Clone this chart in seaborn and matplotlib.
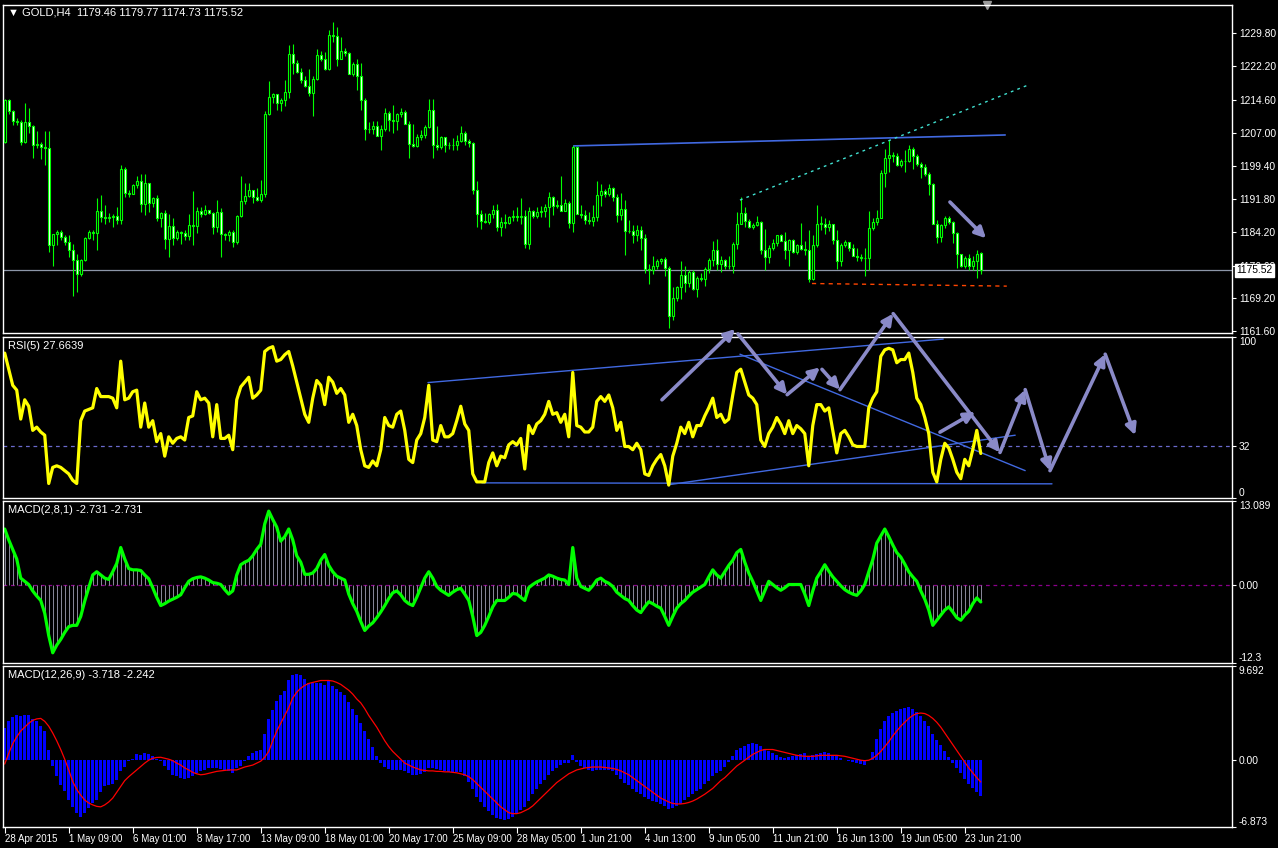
import matplotlib
matplotlib.use("Agg")
import matplotlib.pyplot as plt
import numpy as np
import pandas as pd
import seaborn as sns

# GOLD, H4, one entry per bar
first_open = 1204.8
last_open = 1179.46
closes = [1214.5, 1211.9, 1209.6, 1209.4, 1205.0, 1209.4, 1208.6, 1204.2, 1204.5, 1203.7,
          1203.5, 1181.2, 1183.8, 1184.2, 1183.2, 1182.0, 1180.2, 1177.8, 1174.7, 1177.9,
          1182.9, 1184.2, 1184.0, 1189.0, 1187.7, 1187.6, 1187.7, 1187.9, 1187.1, 1198.6,
          1193.3, 1193.1, 1195.0, 1195.9, 1190.8, 1195.4, 1191.0, 1192.0, 1187.4, 1188.7,
          1182.8, 1185.6, 1183.0, 1184.3, 1184.1, 1183.3, 1186.0, 1185.6, 1189.2, 1188.4,
          1189.3, 1188.7, 1185.4, 1188.9, 1183.9, 1183.7, 1184.4, 1182.0, 1187.9, 1191.3,
          1192.5, 1193.9, 1192.3, 1191.7, 1193.1, 1211.4, 1215.2, 1215.8, 1213.8, 1214.6,
          1216.4, 1225.0, 1223.0, 1220.9, 1219.1, 1217.8, 1216.0, 1219.4, 1224.7, 1223.8,
          1221.5, 1229.3, 1229.2, 1224.0, 1225.7, 1225.3, 1220.4, 1222.7, 1220.0, 1214.5,
          1207.8, 1207.8, 1208.6, 1206.3, 1207.9, 1211.5, 1210.0, 1209.6, 1211.2, 1211.7,
          1209.1, 1204.5, 1203.9, 1206.0, 1206.5, 1208.3, 1212.3, 1204.2, 1203.7, 1206.1,
          1204.2, 1204.1, 1204.3, 1205.1, 1206.9, 1205.1, 1204.6, 1193.9, 1188.3, 1186.8,
          1186.6, 1188.3, 1189.3, 1185.4, 1186.6, 1186.3, 1187.8, 1187.9, 1187.7, 1188.0,
          1181.6, 1189.0, 1187.9, 1188.9, 1189.1, 1190.0, 1192.2, 1190.2, 1190.4, 1189.1,
          1190.9, 1186.4, 1203.8, 1188.5, 1188.2, 1187.0, 1186.8, 1187.8, 1192.7, 1193.6,
          1193.0, 1194.3, 1192.4, 1188.1, 1189.6, 1184.5, 1184.5, 1183.5, 1184.7, 1183.0,
          1175.8, 1175.5, 1176.6, 1177.6, 1178.2, 1176.1, 1165.1, 1169.2, 1171.8, 1174.5,
          1172.7, 1175.1, 1171.2, 1173.8, 1173.6, 1175.9, 1177.8, 1180.2, 1177.0, 1177.9,
          1176.4, 1176.6, 1181.6, 1186.2, 1188.7, 1186.8, 1185.4, 1185.8, 1186.6, 1180.2,
          1178.5, 1180.7, 1181.7, 1183.5, 1182.3, 1180.1, 1182.5, 1179.7, 1181.2, 1180.5,
          1180.1, 1173.5, 1181.2, 1186.2, 1186.2, 1185.4, 1186.2, 1182.5, 1177.6, 1181.4,
          1182.0, 1180.7, 1178.9, 1178.5, 1178.3, 1178.3, 1185.3, 1186.6, 1187.6, 1197.8,
          1201.2, 1201.9, 1201.8, 1199.6, 1200.5, 1200.5, 1203.2, 1201.6, 1199.9, 1199.1,
          1197.5, 1195.3, 1186.2, 1183.1, 1185.8, 1187.6, 1186.6, 1184.1, 1179.3, 1176.4,
          1178.4, 1176.4, 1177.7, 1179.3, 1175.52]
highs = [1214.8, 1214.8, 1212.3, 1210.4, 1210.0, 1213.8, 1212.7, 1208.8, 1207.3, 1204.8,
         1207.3, 1207.3, 1183.9, 1184.7, 1184.7, 1183.5, 1183.5, 1181.6, 1179.3, 1178.1,
         1183.1, 1184.7, 1184.7, 1192.0, 1192.7, 1190.4, 1188.7, 1188.3, 1190.0, 1199.6,
         1199.1, 1193.8, 1195.3, 1197.0, 1197.5, 1197.5, 1195.4, 1192.4, 1192.7, 1188.8,
         1189.3, 1188.3, 1187.4, 1184.7, 1184.5, 1184.8, 1188.5, 1193.6, 1190.0, 1190.0,
         1190.4, 1189.3, 1188.9, 1191.6, 1189.7, 1184.1, 1184.7, 1184.7, 1188.1, 1197.1,
         1195.4, 1195.4, 1193.6, 1194.3, 1196.2, 1211.9, 1218.8, 1216.1, 1215.8, 1215.0,
         1219.0, 1227.0, 1227.3, 1223.6, 1221.9, 1220.1, 1221.7, 1220.1, 1226.1, 1225.7,
         1225.5, 1230.6, 1232.4, 1231.1, 1229.0, 1226.5, 1225.5, 1223.1, 1224.0, 1222.9,
         1215.0, 1209.4, 1209.6, 1209.6, 1208.8, 1212.7, 1211.9, 1213.4, 1211.5, 1212.7,
         1212.3, 1209.6, 1209.1, 1206.8, 1207.7, 1208.8, 1214.8, 1214.8, 1208.6, 1206.3,
         1205.3, 1205.0, 1205.8, 1206.5, 1208.6, 1207.5, 1205.5, 1204.8, 1196.0, 1189.4,
         1188.7, 1188.7, 1190.4, 1190.8, 1187.7, 1188.5, 1187.9, 1189.3, 1189.9, 1192.0,
         1189.3, 1190.0, 1189.4, 1190.0, 1190.2, 1190.6, 1193.5, 1192.5, 1191.5, 1197.1,
         1191.9, 1191.4, 1204.2, 1203.9, 1190.4, 1189.4, 1188.9, 1190.4, 1196.0, 1195.3,
         1194.1, 1195.3, 1194.5, 1192.9, 1193.2, 1191.6, 1187.0, 1186.0, 1186.0, 1185.6,
         1183.9, 1177.0, 1178.7, 1178.1, 1178.4, 1178.5, 1176.4, 1171.6, 1172.0, 1177.6,
         1176.4, 1175.5, 1175.5, 1174.3, 1174.8, 1176.2, 1178.4, 1182.2, 1182.7, 1178.7,
         1178.1, 1178.7, 1182.0, 1188.9, 1192.2, 1189.9, 1187.2, 1186.4, 1187.9, 1186.8,
         1185.0, 1181.4, 1182.7, 1183.7, 1183.9, 1184.3, 1182.8, 1182.7, 1181.6, 1186.3,
         1182.2, 1184.8, 1183.5, 1190.4, 1187.9, 1187.4, 1187.0, 1185.8, 1184.7, 1181.8,
         1182.4, 1182.0, 1181.6, 1180.7, 1179.3, 1180.7, 1189.1, 1187.4, 1189.3, 1198.5,
         1203.2, 1205.4, 1202.6, 1202.3, 1200.9, 1203.1, 1204.2, 1203.8, 1202.2, 1200.4,
         1199.9, 1198.1, 1195.4, 1187.0, 1186.2, 1187.9, 1188.0, 1186.9, 1184.2, 1179.3,
         1178.7, 1179.3, 1178.7, 1180.2, 1179.77]
lows = [1204.6, 1211.4, 1208.8, 1208.8, 1204.2, 1204.6, 1206.9, 1201.2, 1203.5, 1201.0,
        1199.6, 1179.7, 1176.6, 1181.2, 1182.4, 1181.2, 1178.5, 1169.7, 1170.5, 1174.3,
        1177.6, 1182.7, 1182.4, 1180.1, 1186.6, 1186.2, 1186.5, 1185.4, 1186.2, 1186.2,
        1192.3, 1192.3, 1192.9, 1194.3, 1188.9, 1188.1, 1188.9, 1190.0, 1186.8, 1185.4,
        1180.5, 1178.5, 1181.2, 1182.4, 1181.6, 1182.4, 1182.4, 1181.2, 1184.0, 1187.7,
        1188.1, 1188.4, 1183.8, 1184.3, 1178.5, 1182.4, 1182.3, 1180.8, 1181.6, 1187.7,
        1190.8, 1192.4, 1190.9, 1191.4, 1191.2, 1192.3, 1211.0, 1213.8, 1212.3, 1212.1,
        1213.1, 1215.0, 1220.4, 1220.6, 1218.4, 1217.5, 1215.5, 1210.8, 1219.1, 1223.4,
        1221.3, 1221.3, 1227.8, 1222.4, 1223.8, 1224.6, 1220.4, 1220.1, 1216.9, 1212.2,
        1205.4, 1206.9, 1206.8, 1206.3, 1203.1, 1207.3, 1207.3, 1206.9, 1207.7, 1210.6,
        1209.0, 1201.3, 1203.7, 1203.7, 1205.4, 1205.8, 1208.1, 1201.3, 1203.1, 1203.2,
        1202.7, 1203.3, 1203.1, 1203.1, 1204.8, 1204.2, 1203.7, 1193.0, 1185.4, 1185.0,
        1186.4, 1186.2, 1187.4, 1184.5, 1183.3, 1185.3, 1186.2, 1186.8, 1186.8, 1186.2,
        1180.7, 1180.4, 1187.6, 1187.4, 1187.7, 1187.7, 1185.4, 1188.1, 1189.7, 1189.1,
        1189.3, 1185.1, 1184.3, 1188.4, 1187.4, 1186.2, 1186.1, 1185.6, 1186.8, 1190.2,
        1192.2, 1192.5, 1191.4, 1186.6, 1187.0, 1179.1, 1184.1, 1181.8, 1182.2, 1180.1,
        1174.8, 1172.5, 1174.7, 1175.8, 1177.0, 1174.3, 1162.4, 1164.1, 1168.6, 1168.9,
        1170.5, 1171.8, 1171.0, 1169.3, 1173.0, 1172.0, 1174.8, 1176.6, 1175.6, 1175.1,
        1175.8, 1175.8, 1174.8, 1180.4, 1186.2, 1185.4, 1185.3, 1185.0, 1185.6, 1179.3,
        1175.6, 1177.1, 1180.2, 1181.0, 1182.2, 1178.1, 1176.4, 1179.4, 1179.3, 1180.1,
        1179.1, 1172.8, 1173.3, 1180.8, 1184.7, 1183.8, 1184.5, 1181.6, 1175.8, 1176.6,
        1180.9, 1179.9, 1178.7, 1177.6, 1177.6, 1174.3, 1175.5, 1184.7, 1185.8, 1187.4,
        1194.6, 1198.1, 1200.4, 1199.4, 1199.2, 1198.1, 1200.4, 1198.6, 1199.3, 1196.6,
        1197.1, 1192.7, 1186.1, 1181.8, 1182.0, 1185.1, 1186.2, 1181.8, 1176.1, 1176.2,
        1176.1, 1175.6, 1175.6, 1173.8, 1174.73]

rsi_5 = [90, 80, 70, 67, 49, 61, 57, 42, 44, 41,
         39, 9, 19, 20, 19, 17, 15, 11, 9, 48,
         54, 55, 56, 68, 63, 63, 63, 62, 56, 85,
         61, 62, 66, 67, 44, 59, 44, 48, 35, 40,
         26, 38, 34, 37, 38, 36, 50, 51, 66, 61,
         62, 59, 38, 58, 37, 37, 39, 30, 61, 69,
         72, 75, 62, 64, 67, 91, 93, 94, 85, 86,
         89, 91, 82, 72, 62, 52, 47, 62, 73, 70,
         58, 75, 72, 65, 68, 64, 47, 52, 45, 30,
         20, 19, 23, 20, 30, 50, 45, 44, 52, 54,
         42, 24, 22, 36, 40, 50, 70, 36, 35, 45,
         38, 38, 40, 48, 57, 46, 42, 15, 10, 10,
         10, 22, 28, 20, 26, 25, 33, 35, 33, 37,
         18, 45, 40, 46, 48, 52, 60, 52, 53, 47,
         52, 38, 78, 45, 44, 41, 41, 44, 60, 63,
         60, 64, 56, 42, 47, 32, 32, 30, 34, 30,
         15, 14, 20, 24, 27, 20, 8, 26, 34, 44,
         40, 47, 38, 45, 45, 51, 56, 62, 50, 52,
         47, 49, 64, 78, 80, 72, 64, 62, 58, 36,
         32, 40, 44, 50, 46, 40, 48, 40, 45, 43,
         40, 20, 45, 58, 58, 54, 56, 42, 28, 40,
         42, 38, 33, 32, 32, 32, 56, 62, 66, 88,
         92, 93, 92, 84, 86, 86, 90, 78, 62, 58,
         50, 40, 16, 10, 24, 34, 31, 24, 16, 12,
         24, 20, 30, 42, 27.6639]

# MACD(2,8,1): histogram and signal are the same series
macd_fast = [8.7, 7, 5.5, 4, 1, 0.5, 0, -1, -1.8, -2.5,
             -4.5, -8, -10.7, -9.5, -8.6, -7.5, -6.6, -6.4, -6.4, -5,
             -2.6, -0.5, 1.5, 2, 1.5, 1, 0.8, 2, 3.3, 5.8,
             4, 2.5, 2.3, 2.3, 2.2, 1.5, 0.9, -0.5, -2, -3.3,
             -3, -2.6, -2.3, -2, -1.6, -0.5, 0.5, 0.9, 1.1, 1.2,
             1, 0.7, 0.3, 0.2, 0, -0.8, -1.5, -1, 1.5, 3.1,
             3.5, 3.8, 4.5, 5.5, 6.3, 9.5, 11.5, 10.2, 9, 6.8,
             7.5, 8.7, 7, 4.5, 3.5, 1.6, 1.6, 1.8, 2.5, 3.8,
             4.7, 3.0, 2, 1.3, 1, 0.7, -1.5, -3, -4.2, -5.8,
             -7.2, -6.5, -6, -5.2, -4.3, -3.3, -2.2, -1.3, -1, -1.6,
             -2.5, -3, -3.3, -2, -0.5, 1, 2, 1, -0.3, -0.9,
             -1.3, -1.7, -1.2, -0.8, -0.6, -1.5, -2.5, -5, -8, -7.5,
             -6.4, -5, -3.5, -2.5, -2.5, -2.5, -2, -1.4, -1.5, -2,
             -2.5, -0.5, 0, 0.4, 0.7, 1, 1.5, 1.3, 1, 0.8,
             0.7, 0, 5.8, 1, -0.3, -0.6, -0.9, -0.2, 0.7, 1,
             0.5, 0.2, -0.3, -1.2, -1.7, -2.2, -2.5, -3.3, -4, -4.4,
             -3.5, -2.7, -3, -3.4, -3.7, -5, -6.4, -5, -3.7, -3,
             -2.5, -1.8, -1.2, -0.8, -0.4, 0, 1.2, 2.3, 1.5, 1,
             2, 3, 3.8, 5, 5.5, 3.5, 1.8, 0.5, -1, -2.5,
             -1, 0.5, 0, -0.5, -0.9, -0.5, 0, 0, 0, 0,
             -1.5, -3.3, -1, 1, 2, 3.1, 2.1, 1.2, 0.5, -0.2,
             -0.8, -1.2, -1.5, -1.7, -1, 0, 2, 3.9, 6.5, 7.6,
             8.7, 7.5, 6.2, 5, 4.3, 3.2, 2, 1.2, 0.5, -1,
             -2.3, -4, -6.4, -5.6, -4.8, -4, -3.5, -4.3, -5.2, -5.6,
             -4.8, -4.2, -3, -2.1, -2.731]

# MACD(12,26,9)
macd_main = [3.3, 4.0, 4.4, 4.6, 4.55, 4.7, 4.6, 4.2, 4.0, 3.5,
             3.0, 1.0, -0.55, -1.65, -2.6, -3.2, -4.1, -4.8, -5.4, -5.8,
             -5.4, -4.9, -4.4, -4.1, -3.3, -2.7, -2.6, -2.4, -2.0, -1.1,
             -0.7, -0.1, 0.15, 0.6, 0.5, 0.7, 0.6, 0.4, 0.1, -0.1,
             -0.6, -1.0, -1.5, -1.65, -1.8, -1.9, -1.8, -1.65, -1.3, -1.1,
             -1.0, -0.8, -0.8, -0.8, -0.9, -1.0, -1.1, -1.3, -0.8, -0.55,
             -0.1, 0.4, 0.7, 0.9, 1.0, 2.65, 4.2, 5.2, 6.1, 6.7,
             7.1, 8.3, 8.8, 8.9, 8.8, 8.4, 7.9, 7.9, 7.9, 7.9,
             7.7, 8.1, 7.6, 7.3, 7.0, 6.7, 6.0, 5.3, 4.6, 3.8,
             3.0, 2.2, 1.4, 0.4, -0.3, -0.7, -0.9, -1.0, -1.0, -1.0,
             -1.1, -1.3, -1.5, -1.5, -1.4, -1.2, -0.8, -0.8, -0.9, -1.0,
             -1.1, -1.2, -1.2, -1.2, -1.2, -1.6, -2.2, -3.0, -3.8, -4.3,
             -4.8, -5.2, -5.6, -5.9, -6.0, -6.2, -6.1, -5.8, -5.5, -5.1,
             -4.8, -4.2, -3.5, -3.0, -2.5, -2.0, -1.5, -1.1, -0.8, -0.5,
             -0.3, -0.3, 0.5, -0.2, -0.6, -0.8, -1.0, -1.1, -1.0, -1.0,
             -1.0, -1.0, -1.1, -1.5, -1.9, -2.3, -2.6, -3.0, -3.3, -3.5,
             -3.8, -4.0, -4.2, -4.3, -4.5, -4.7, -5.0, -4.9, -4.7, -4.5,
             -4.1, -3.8, -3.5, -3.2, -3.0, -2.5, -2.1, -1.6, -1.3, -1.1,
             -0.7, -0.2, 0.4, 1.0, 1.3, 1.5, 1.7, 1.8, 1.7, 1.5,
             1.2, 0.9, 0.7, 0.5, 0.3, 0.2, 0.3, 0.4, 0.5, 0.6,
             0.7, 0.4, 0.5, 0.6, 0.7, 0.8, 0.7, 0.5, 0.4, 0.2,
             0.0, -0.1, -0.2, -0.3, -0.4, -0.5, 0.0, 0.8, 2.2, 3.2,
             4.0, 4.5, 4.9, 5.1, 5.3, 5.4, 5.5, 5.3, 5.0, 4.5,
             4.0, 3.5, 2.7, 2.1, 1.6, 0.9, 0.3, -0.3, -0.8, -1.3,
             -1.9, -2.4, -2.9, -3.3, -3.718]
macd_signal = [-0.4, 0.7, 1.7, 2.4, 3.0, 3.4, 3.8, 4.1, 4.25, 4.3,
               4.0, 3.5, 2.8, 2.0, 1.1, 0.1, -1.0, -2.2, -3.0, -3.6,
               -4.1, -4.4, -4.6, -4.75, -4.8, -4.6, -4.3, -3.9, -3.3, -2.7,
               -2.1, -1.7, -1.35, -1.0, -0.65, -0.3, 0.0, 0.2, 0.28, 0.3,
               0.2, 0.1, -0.05, -0.3, -0.5, -0.8, -1.0, -1.25, -1.4, -1.5,
               -1.45, -1.35, -1.25, -1.15, -1.1, -1.05, -1.0, -1.0, -1.0, -0.85,
               -0.7, -0.6, -0.5, -0.3, -0.1, 0.3, 0.9, 2.0, 3.0, 3.8,
               4.6, 5.4, 6.4, 7.0, 7.4, 7.7, 7.9, 8.0, 8.1, 8.2,
               8.2, 8.2, 8.15, 8.0, 7.8, 7.5, 7.2, 6.8, 6.3, 5.9,
               5.3, 4.6, 4.0, 3.4, 2.7, 2.0, 1.4, 0.9, 0.5, 0.1,
               -0.3, -0.5, -0.7, -0.85, -1.0, -1.05, -1.1, -1.1, -1.15, -1.15,
               -1.2, -1.2, -1.25, -1.3, -1.4, -1.5, -1.7, -2.0, -2.4, -2.8,
               -3.2, -3.6, -4.0, -4.4, -4.8, -5.1, -5.4, -5.5, -5.5, -5.4,
               -5.2, -5.0, -4.7, -4.3, -3.9, -3.5, -3.1, -2.7, -2.3, -2.0,
               -1.7, -1.4, -1.2, -1.0, -0.9, -0.8, -0.75, -0.7, -0.7, -0.7,
               -0.75, -0.8, -0.85, -0.95, -1.1, -1.3, -1.5, -1.8, -2.1, -2.4,
               -2.7, -3.0, -3.3, -3.6, -3.9, -4.1, -4.3, -4.45, -4.5, -4.5,
               -4.45, -4.35, -4.2, -4.0, -3.75, -3.5, -3.2, -2.9, -2.5, -2.1,
               -1.8, -1.4, -1.0, -0.6, -0.3, 0.0, 0.3, 0.6, 0.8, 1.0,
               1.1, 1.1, 1.1, 1.0, 0.9, 0.8, 0.7, 0.6, 0.5, 0.45,
               0.4, 0.4, 0.4, 0.45, 0.5, 0.5, 0.5, 0.5, 0.5, 0.45,
               0.4, 0.3, 0.2, 0.1, 0.0, -0.05, 0.0, 0.2, 0.5, 0.9,
               1.4, 1.9, 2.5, 3.0, 3.5, 3.9, 4.3, 4.6, 4.8, 4.85,
               4.8, 4.6, 4.3, 3.9, 3.4, 2.8, 2.2, 1.6, 1.0, 0.4,
               -0.2, -0.8, -1.3, -1.8, -2.242]

date_labels = ["28 Apr 2015", "1 May 09:00", "6 May 01:00", "8 May 17:00", "13 May 09:00",
               "18 May 01:00", "20 May 17:00", "25 May 09:00", "28 May 05:00", "1 Jun 21:00",
               "4 Jun 13:00", "9 Jun 05:00", "11 Jun 21:00", "16 Jun 13:00", "19 Jun 05:00",
               "23 Jun 21:00"]
bars_per_label = 16
price_ticks = [1229.80, 1222.20, 1214.60, 1207.00, 1199.40, 1191.80, 1184.20, 1176.60, 1169.20, 1161.60]

# hand drawn objects on the chart, as (bar, value) pairs
resistance = [(142.3, 1204.0), (250.1, 1206.5)]
rising_dots = [(183.8, 1191.6), (256.3, 1218.1)]
support_dash = [(201.8, 1172.5), (250.5, 1171.9)]
price_arrow = [(235.8, 1191.6), (245.8, 1182.4)]
rsi_lines = [[(105.8, 71.7), (234.6, 98.7)],
             [(119.3, 9.4), (261.8, 8.8)],
             [(165.8, 8.2), (252.6, 39.0)],
             [(183.8, 89.3), (255.1, 17.0)]]
rsi_arrows = [[(164.3, 61.0), (182.6, 105.0)],
              [(183.3, 101.9), (195.6, 64.2)],
              [(195.6, 64.2), (203.8, 81.1)],
              [(204.3, 79.9), (208.8, 67.3)],
              [(208.8, 67.3), (222.1, 114.5)],
              [(222.1, 114.5), (248.8, 28.3)],
              [(248.8, 28.3), (255.1, 67.3)],
              [(255.1, 67.3), (261.3, 17.0)],
              [(261.3, 17.0), (275.1, 89.3)],
              [(275.1, 89.3), (282.6, 39.0)],
              [(233.8, 40.9), (242.6, 53.5)]]
shift_marker_bar = 245.5

sns.set_style("dark", {"axes.facecolor": "black", "figure.facecolor": "black",
                       "axes.edgecolor": "white", "text.color": "white",
                       "xtick.color": "white", "ytick.color": "white"})
plt.rcParams["font.family"] = ["Liberation Sans", "DejaVu Sans"]

LIME = "#00ff00"
ARROW = "#8a8ac8"
TREND = "#4169e1"

bars = np.arange(len(closes))
df = pd.DataFrame({"bar": bars, "close": closes, "high": highs, "low": lows})
df["open"] = [first_open] + closes[:-1]
df.loc[df.index[-1], "open"] = last_open

fig = plt.figure(figsize=(12.78, 8.48), dpi=100)


def make_panel(top_px, bottom_px):
    ax = fig.add_axes([3 / 1278, 1 - bottom_px / 848, 1229 / 1278, (bottom_px - top_px) / 848])
    ax.set_facecolor("black")
    for s in ax.spines.values():
        s.set_color("white")
        s.set_linewidth(1)
    ax.yaxis.tick_right()
    ax.tick_params(axis="y", colors="white", labelsize=7.4, length=3, width=0.8, pad=2)
    ax.tick_params(axis="x", bottom=False, labelbottom=False)
    ax.set_xlim(-0.43, 306.8)
    ax.grid(False)
    return ax


def set_edge_labels(ax, ticks, labels):
    ax.set_yticks(ticks)
    ax.set_yticklabels(labels)
    tl = ax.get_yticklabels()
    tl[0].set_va("top")
    tl[-1].set_va("bottom")


# ---- price panel ----
ax1 = make_panel(5, 333)
ax1.set_ylim(1161.17, 1236.25)
ax1.set_yticks(price_ticks)
ax1.set_yticklabels([f"{p:.2f}" for p in price_ticks])
ax1.axhline(closes[-1], color="#8c96a8", lw=0.9, zorder=1)
ax1.vlines(df.bar, df.low, df.high, color=LIME, lw=0.8, zorder=2)
body_lo = df[["open", "close"]].min(axis=1)
body_h = (df.close - df.open).abs().clip(lower=0.12)
body_col = np.where(df.close < df.open, "white", "black")
ax1.bar(df.bar, body_h, bottom=body_lo, width=0.52, color=body_col,
        edgecolor=LIME, linewidth=0.8, zorder=3)
ax1.plot(*zip(*resistance), color=TREND, lw=1.2, zorder=4)
ax1.plot(*zip(*rising_dots), color="#40e0d0", lw=1, ls=(0, (2, 3)), zorder=4)
ax1.plot(*zip(*support_dash), color="#ff4500", lw=1, ls=(0, (3, 3)), zorder=4)
ax1.annotate("", xy=price_arrow[1], xytext=price_arrow[0],
             arrowprops=dict(arrowstyle="-|>", color=ARROW, lw=2.6, mutation_scale=16))
# current price tag covers the 1176.60 tick label, as in MT4
ax1.text(1.0035, closes[-1], f"{closes[-1]:.2f}", transform=ax1.get_yaxis_transform(),
         color="black", fontsize=7.4, va="center", ha="left", clip_on=False, zorder=10,
         bbox=dict(boxstyle="square,pad=0.12", fc="white", ec="white"))
ax1.text(0.004, 0.993, f"\u25bc GOLD,H4  {last_open:.2f} {highs[-1]:.2f} {lows[-1]:.2f} {closes[-1]:.2f}",
         transform=ax1.transAxes, color="white", fontsize=8, va="top", ha="left")
ax1.plot([shift_marker_bar], [1.0], marker="v", color="#9a9a9a", ms=6,
         transform=ax1.get_xaxis_transform(), clip_on=False)

# ---- RSI panel ----
ax2 = make_panel(337, 498)
ax2.set_ylim(0, 100)
set_edge_labels(ax2, [100, 32, 0], ["100", "32", "0"])
ax2.axhline(32, color="#6a6acd", lw=0.9, ls=(0, (3, 3)))
for seg in rsi_lines:
    ax2.plot(*zip(*seg), color=TREND, lw=1)
sns.lineplot(x=bars, y=rsi_5, ax=ax2, color="#ffff00", lw=2.3, legend=False)
for a, b in rsi_arrows:
    ax2.annotate("", xy=b, xytext=a, annotation_clip=False,
                 arrowprops=dict(arrowstyle="-|>", color=ARROW, lw=2.6, mutation_scale=16,
                                 shrinkA=0, shrinkB=0))
ax2.text(0.004, 0.975, f"RSI(5) {rsi_5[-1]:.4f}", transform=ax2.transAxes,
         color="white", fontsize=8, va="top", ha="left")
ax2.set_xlabel("")
ax2.set_ylabel("")

# ---- MACD(2,8,1) panel ----
ax3 = make_panel(501, 663)
ax3.set_ylim(-12.3, 13.089)
set_edge_labels(ax3, [13.089, 0, -12.3], ["13.089", "0.00", "-12.3"])
ax3.axhline(0, color="#8b008b", lw=0.9, ls=(0, (3, 3)))
ax3.vlines(bars, 0, macd_fast, color="#a0a0b4", lw=0.6)
sns.lineplot(x=bars, y=macd_fast, ax=ax3, color=LIME, lw=2.3, legend=False)
ax3.text(0.004, 0.975, f"MACD(2,8,1) {macd_fast[-1]:.3f} {macd_fast[-1]:.3f}",
         transform=ax3.transAxes, color="white", fontsize=8, va="top", ha="left")
ax3.set_xlabel("")
ax3.set_ylabel("")

# ---- MACD(12,26,9) panel ----
ax4 = make_panel(666, 827)
ax4.set_ylim(-6.873, 9.692)
set_edge_labels(ax4, [9.692, 0, -6.873], ["9.692", "0.00", "-6.873"])
ax4.bar(bars, macd_main, width=0.7, color="#0000ff", linewidth=0)
sns.lineplot(x=bars, y=macd_signal, ax=ax4, color="#ff0000", lw=0.9, legend=False)
ax4.text(0.004, 0.975, f"MACD(12,26,9) {macd_main[-1]:.3f} {macd_signal[-1]:.3f}",
         transform=ax4.transAxes, color="white", fontsize=8, va="top", ha="left")
ax4.set_xlabel("")
ax4.set_ylabel("")
ax4.set_xticks(bars[::bars_per_label][:len(date_labels)])
ax4.set_xticklabels(date_labels)
ax4.tick_params(axis="x", bottom=True, labelbottom=True, colors="white", labelsize=7,
                length=4, width=0.8, pad=1)
for lab in ax4.get_xticklabels():
    lab.set_ha("left")

fig.savefig("out.png", dpi=100, facecolor="black")
